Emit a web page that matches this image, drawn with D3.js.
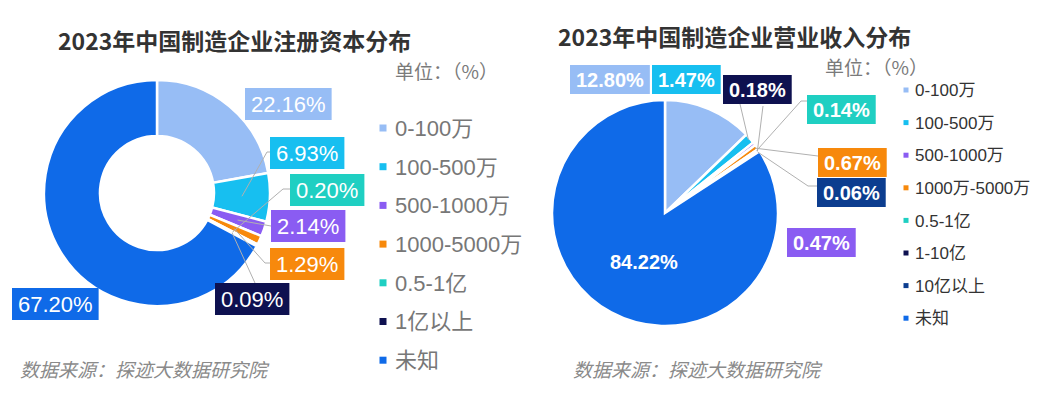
<!DOCTYPE html>
<html lang="zh">
<head>
  <meta charset="UTF-8">
  <title>2023年中国制造企业注册资本及营业收入分布</title>
  <script src="https://d3js.org/d3.v7.min.js"></script>
  <style>
    body { margin: 0; background: #fff; }
    svg { display: block; }
    .title { font-family: "Noto Sans CJK SC", sans-serif; font-weight: 700; font-size: 23px; fill: #333; }
    .unit { font-family: "Noto Sans CJK SC", sans-serif; font-size: 19px; fill: #7a7a7a; }
    .source { font-family: "Noto Sans CJK SC", sans-serif; font-size: 19px; font-style: italic; fill: #8a8a8a; }
    .leader { fill: none; stroke: #b0b0b0; stroke-width: 1; }
  </style>
</head>
<body>
<svg width="1042" height="394"></svg>
<script>
// 注册资本分布
const regCats = ["0-100万", "100-500万", "500-1000万", "1000-5000万", "0.5-1亿", "1亿以上", "未知"];
const regValues = [22.16, 6.93, 2.14, 1.29, 0.20, 0.09, 67.20];
const regColors = ["#97bdf5", "#17bff0", "#8a5cf2", "#f7890c", "#1fcfc2", "#0e1150", "#0f6ae8"];

// 营业收入分布
const revCats = ["0-100万", "100-500万", "500-1000万", "1000万-5000万", "0.5-1亿", "1-10亿", "10亿以上", "未知"];
const revValues = [12.80, 1.47, 0.47, 0.67, 0.14, 0.18, 0.06, 84.22];
const revColors = ["#97bdf5", "#17bff0", "#8a5cf2", "#f7890c", "#1fcfc2", "#0e1150", "#0c3d8f", "#0f6ae8"];

const svg = d3.select("svg");
const fmt = v => v.toFixed(2) + "%";
const pie = d3.pie().sort(null).value(d => d);

// label boxes: top-left corner, and leader line points after the slice anchor
const regLabels = [
  { x: 245, y: 88 },
  { x: 270, y: 137, line: [[267, 152], [270, 152]] },
  { x: 271, y: 210, line: [[271, 226]] },
  { x: 270, y: 248, line: [[265, 263], [270, 263]] },
  { x: 290, y: 174, line: [[283, 189], [290, 189]] },
  { x: 215, y: 283, line: [[255, 283]] },
  { x: 12, y: 288 }
];
const revLabels = [
  { x: 570, y: 65 },
  { x: 652, y: 65, line: [[740, 104]] },
  { x: 787, y: 228 },
  { x: 818, y: 148, line: [[818, 156]] },
  { x: 807, y: 95, line: [[801, 101], [807, 101]] },
  { x: 723, y: 75, line: [[763, 106]] },
  { x: 817, y: 178, line: [[808, 186], [817, 186]] },
  { inside: true, x: 610, y: 262 }
];

function drawChart(opt) {
  const g = svg.append("g");
  const cx = opt.cx, cy = opt.cy;
  const arcs = pie(opt.values);
  const arc = d3.arc().innerRadius(opt.inner).outerRadius(opt.outer);
  const anchorArc = d3.arc().innerRadius(opt.anchorR).outerRadius(opt.anchorR);

  g.append("text").attr("class", "title")
    .attr("x", opt.titleX).attr("y", opt.titleY).text(opt.title);

  const pg = g.append("g").attr("transform", `translate(${cx},${cy})`);
  pg.selectAll("path.slice").data(arcs).enter().append("path")
    .attr("class", "slice")
    .attr("d", arc)
    .attr("fill", (d, i) => opt.colors[i])
    .attr("stroke", "#fff")
    .attr("stroke-width", opt.gap);

  // leader lines
  arcs.forEach((d, i) => {
    const lab = opt.labels[i];
    if (!lab.line) return;
    const c = anchorArc.centroid(d);
    const pts = [[cx + c[0], cy + c[1]]].concat(lab.line);
    g.append("path").attr("class", "leader").attr("d", d3.line()(pts));
  });

  // data labels
  arcs.forEach((d, i) => {
    const lab = opt.labels[i];
    const txt = fmt(opt.values[i]);
    if (lab.inside) {
      g.append("text").attr("x", lab.x).attr("y", lab.y)
        .attr("dy", "0.36em")
        .attr("font-family", "Liberation Sans, Arial, sans-serif")
        .attr("font-size", opt.labelSize).attr("font-weight", opt.labelWeight)
        .attr("fill", "#fff").text(txt);
      return;
    }
    const lg = g.append("g").attr("transform", `translate(${lab.x},${lab.y})`);
    const rect = lg.append("rect").attr("height", opt.boxH).attr("fill", opt.colors[i]);
    const t = lg.append("text")
      .attr("x", opt.padX).attr("y", opt.boxH / 2).attr("dy", "0.36em")
      .attr("font-family", "Liberation Sans, Arial, sans-serif")
      .attr("font-size", opt.labelSize).attr("font-weight", opt.labelWeight)
      .attr("fill", "#fff").text(txt);
    rect.attr("width", t.node().getComputedTextLength() + opt.padX * 2);
  });

  // legend
  g.append("text").attr("class", "unit")
    .attr("x", opt.unitX).attr("y", opt.unitY).text("单位：（%）");
  const leg = g.selectAll("g.leg").data(opt.cats).enter().append("g")
    .attr("transform", (d, i) => `translate(${opt.legX},${opt.legY + i * opt.legStep})`);
  leg.append("rect")
    .attr("x", -opt.sq / 2).attr("y", -opt.sq / 2)
    .attr("width", opt.sq).attr("height", opt.sq)
    .attr("fill", (d, i) => opt.colors[i]);
  leg.append("text")
    .attr("x", opt.legTextDx).attr("dy", "0.36em")
    .attr("font-family", "Liberation Sans, 'Noto Sans CJK SC', sans-serif")
    .attr("font-size", opt.legSize).attr("fill", opt.legColor)
    .text(d => d);

  g.append("text").attr("class", "source")
    .attr("x", opt.srcX).attr("y", opt.srcY).text("数据来源：探迹大数据研究院");
}

drawChart({
  title: "2023年中国制造企业注册资本分布", titleX: 58, titleY: 50,
  cats: regCats, values: regValues, colors: regColors, labels: regLabels,
  cx: 157, cy: 193, inner: 57, outer: 113, anchorR: 85, gap: 2.5,
  boxH: 32, padX: 6, labelSize: 22, labelWeight: 400,
  unitX: 395, unitY: 79,
  legX: 383, legY: 128, legStep: 38.7, sq: 7, legTextDx: 12, legSize: 22, legColor: "#777",
  srcX: 20, srcY: 377
});

drawChart({
  title: "2023年中国制造企业营业收入分布", titleX: 558, titleY: 46,
  cats: revCats, values: revValues, colors: revColors, labels: revLabels,
  cx: 665, cy: 213, inner: 0, outer: 113, anchorR: 111, gap: 2.5,
  boxH: 29, padX: 6, labelSize: 20, labelWeight: 700,
  unitX: 825, unitY: 75,
  legX: 906, legY: 90, legStep: 32.6, sq: 5, legTextDx: 9, legSize: 17, legColor: "#333",
  srcX: 573, srcY: 377
});
</script>
</body>
</html>
